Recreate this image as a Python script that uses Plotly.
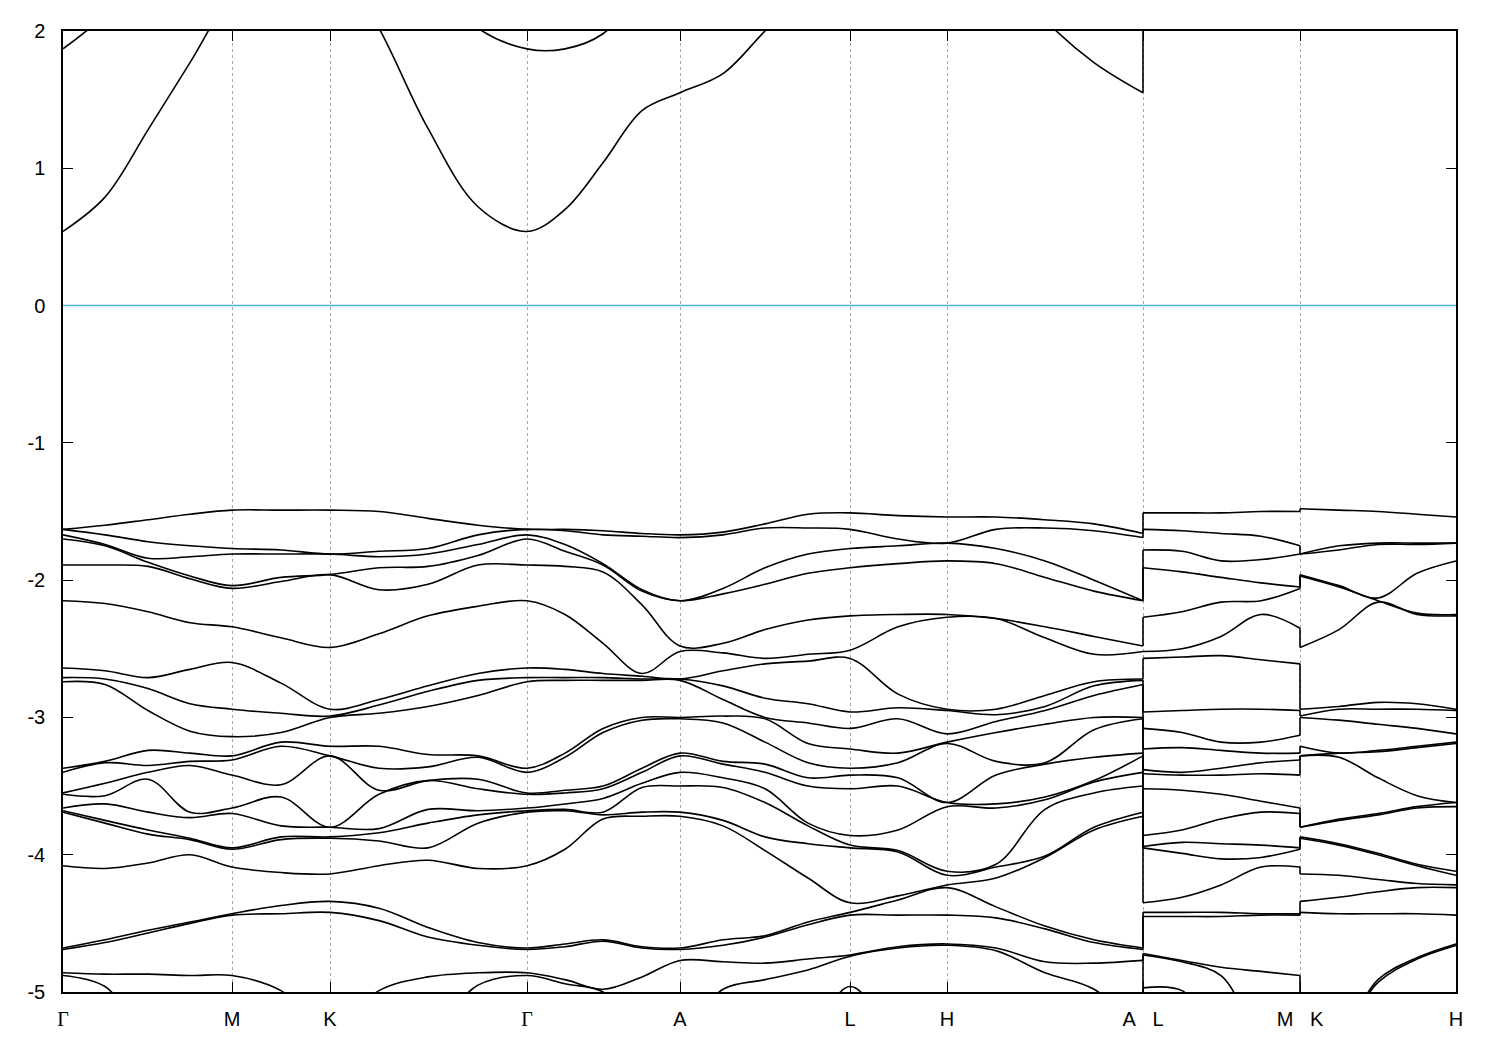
import plotly.graph_objects as go

# k-path distance of each sampled k-point (A|L and M|K are path breaks)
kpath = [0, 42, 85, 127, 169, 218, 267, 316, 365, 415, 464, 502, 540, 579, 617,
         660, 702, 745, 787, 835, 884, 933, 982, 1031, 1080, 1080, 1119, 1158,
         1198, 1237, 1237, 1276, 1315, 1354, 1393]

tick_index = [0, 4, 6, 10, 14, 18, 20, 24, 29, 34]
tick_labels = ["Γ", "M", "K", "Γ", "A", "L", "H", "A   L", "M   K", "H"]

# conduction bands (eV), one value per k-point
cb_low = [0.54, 0.79, 1.28, 1.77, 2.25, 2.5, 2.6, 2.02, 1.29, 0.72, 0.54, 0.70, 1.04,
          1.42, 1.55, 1.69, 2.0, 2.3, 2.5, 2.6, 2.6, 2.5, 2.08, 1.77, 1.55,
          2.6, 2.6, 2.6, 2.6, 2.6, 2.6, 2.6, 2.6, 2.6, 2.6]
cb_high = [1.87, 2.12, 2.5, 2.6, 2.6, 2.6, 2.6, 2.6, 2.4, 2.02, 1.87, 1.87, 1.98,
           2.3, 2.6, 2.6, 2.6, 2.6, 2.6, 2.6, 2.6, 2.6, 2.6, 2.6, 2.6,
           2.6, 2.6, 2.6, 2.6, 2.6, 2.6, 2.6, 2.6, 2.6, 2.6]

# valence eigenvalues (eV) at each k-point, sorted from top to bottom
eig_00 = [-1.63, -1.63, -1.67, -1.70, -1.89, -2.15, -2.64, -2.71, -2.74, -3.37, -3.40, -3.55, -3.56, -3.66, -3.68, -3.69, -4.08, -4.68, -4.69, -4.86, -4.88, -5.3]
eig_01 = [-1.60, -1.67, -1.74, -1.75, -1.89, -2.17, -2.66, -2.72, -2.76, -3.32, -3.33, -3.48, -3.57, -3.63, -3.75, -3.77, -4.10, -4.62, -4.64, -4.87, -4.96, -5.3]
eig_02 = [-1.56, -1.72, -1.84, -1.87, -1.90, -2.23, -2.71, -2.79, -2.95, -3.24, -3.35, -3.40, -3.45, -3.69, -3.82, -3.85, -4.06, -4.55, -4.57, -4.87, -5.3, -5.3]
eig_03 = [-1.52, -1.75, -1.83, -1.97, -1.99, -2.31, -2.65, -2.90, -3.10, -3.26, -3.32, -3.35, -3.69, -3.73, -3.88, -3.89, -4.00, -4.49, -4.50, -4.88, -5.3, -5.3]
eig_04 = [-1.49, -1.77, -1.81, -2.04, -2.06, -2.34, -2.60, -2.94, -3.14, -3.28, -3.31, -3.42, -3.66, -3.70, -3.95, -3.96, -4.09, -4.43, -4.44, -4.88, -5.3, -5.3]
eig_05 = [-1.49, -1.78, -1.81, -1.98, -2.01, -2.42, -2.75, -2.97, -3.11, -3.18, -3.21, -3.49, -3.58, -3.79, -3.87, -3.89, -4.13, -4.37, -4.43, -4.99, -5.3, -5.3]
eig_06 = [-1.49, -1.81, -1.81, -1.96, -1.96, -2.49, -2.94, -2.99, -3.00, -3.21, -3.28, -3.28, -3.80, -3.80, -3.87, -3.88, -4.14, -4.34, -4.42, -5.3, -5.3, -5.3]
eig_07 = [-1.50, -1.79, -1.83, -1.91, -2.07, -2.39, -2.87, -2.91, -2.97, -3.21, -3.37, -3.53, -3.56, -3.81, -3.84, -3.90, -4.08, -4.39, -4.48, -4.99, -5.3, -5.3]
eig_08 = [-1.55, -1.77, -1.81, -1.90, -2.03, -2.26, -2.77, -2.81, -2.92, -3.27, -3.36, -3.46, -3.46, -3.67, -3.77, -3.95, -4.04, -4.53, -4.60, -4.89, -5.3, -5.3]
eig_09 = [-1.60, -1.67, -1.74, -1.82, -1.89, -2.19, -2.68, -2.73, -2.84, -3.28, -3.29, -3.45, -3.52, -3.68, -3.71, -3.77, -4.10, -4.64, -4.66, -4.86, -4.95, -5.3]
eig_10 = [-1.63, -1.63, -1.67, -1.70, -1.89, -2.15, -2.64, -2.71, -2.74, -3.37, -3.40, -3.55, -3.56, -3.66, -3.68, -3.69, -4.08, -4.68, -4.69, -4.86, -4.88, -5.3]
eig_11 = [-1.63, -1.64, -1.74, -1.79, -1.90, -2.25, -2.65, -2.71, -2.73, -3.26, -3.29, -3.53, -3.55, -3.63, -3.67, -3.68, -3.96, -4.65, -4.67, -4.91, -4.94, -5.3]
eig_12 = [-1.64, -1.67, -1.88, -1.89, -1.94, -2.46, -2.68, -2.71, -2.73, -3.08, -3.11, -3.50, -3.52, -3.59, -3.69, -3.71, -3.74, -4.62, -4.63, -4.98, -5.00, -5.3]
eig_13 = [-1.66, -1.68, -2.07, -2.08, -2.18, -2.68, -2.70, -2.72, -2.73, -3.00, -3.02, -3.37, -3.40, -3.48, -3.51, -3.69, -3.72, -4.67, -4.68, -4.89, -5.3, -5.3]
eig_14 = [-1.67, -1.69, -2.15, -2.15, -2.48, -2.52, -2.72, -2.72, -2.73, -3.00, -3.01, -3.26, -3.28, -3.40, -3.50, -3.69, -3.72, -4.68, -4.69, -4.77, -5.3, -5.3]
eig_15 = [-1.65, -1.67, -2.06, -2.10, -2.46, -2.53, -2.66, -2.77, -2.87, -2.99, -3.04, -3.32, -3.34, -3.44, -3.51, -3.75, -3.79, -4.62, -4.66, -4.78, -4.98, -5.3]
eig_16 = [-1.59, -1.62, -1.91, -2.03, -2.36, -2.57, -2.61, -2.86, -3.00, -3.01, -3.18, -3.34, -3.40, -3.52, -3.62, -3.87, -3.97, -4.59, -4.60, -4.79, -4.91, -5.3]
eig_17 = [-1.52, -1.62, -1.81, -1.95, -2.29, -2.54, -2.59, -2.90, -3.04, -3.19, -3.33, -3.44, -3.50, -3.77, -3.79, -3.92, -4.17, -4.49, -4.51, -4.76, -4.84, -5.3]
eig_18 = [-1.51, -1.63, -1.77, -1.91, -2.26, -2.51, -2.57, -2.96, -3.08, -3.23, -3.37, -3.42, -3.52, -3.86, -3.93, -3.95, -4.35, -4.42, -4.44, -4.73, -4.74, -4.96]
eig_19 = [-1.53, -1.70, -1.75, -1.88, -2.25, -2.34, -2.83, -2.93, -3.01, -3.26, -3.33, -3.44, -3.50, -3.82, -3.97, -3.98, -4.30, -4.33, -4.44, -4.67, -4.68, -5.3]
eig_20 = [-1.54, -1.73, -1.73, -1.86, -2.25, -2.27, -2.94, -2.95, -3.12, -3.18, -3.19, -3.62, -3.62, -3.65, -4.12, -4.15, -4.22, -4.24, -4.44, -4.65, -4.66, -5.3]
eig_21 = [-1.54, -1.63, -1.77, -1.88, -2.28, -2.28, -2.94, -2.98, -3.03, -3.11, -3.32, -3.42, -3.63, -3.66, -4.07, -4.09, -4.17, -4.38, -4.46, -4.68, -4.70, -5.3]
eig_22 = [-1.56, -1.62, -1.86, -1.98, -2.34, -2.42, -2.84, -2.92, -2.95, -3.05, -3.33, -3.34, -3.58, -3.60, -3.67, -4.01, -4.02, -4.52, -4.54, -4.78, -4.86, -5.3]
eig_23 = [-1.59, -1.64, -2.00, -2.08, -2.41, -2.54, -2.74, -2.77, -2.84, -3.00, -3.09, -3.29, -3.46, -3.47, -3.55, -3.80, -3.82, -4.62, -4.64, -4.79, -4.98, -5.3]
eig_24 = [-1.66, -1.69, -2.15, -2.15, -2.48, -2.52, -2.72, -2.73, -2.76, -3.00, -3.01, -3.26, -3.28, -3.40, -3.50, -3.69, -3.72, -4.68, -4.69, -4.77, -5.3, -5.3]
eig_25 = [-1.51, -1.63, -1.78, -1.91, -2.27, -2.52, -2.57, -2.96, -3.08, -3.23, -3.38, -3.41, -3.52, -3.86, -3.94, -3.95, -4.35, -4.42, -4.45, -4.72, -4.73, -4.97]
eig_26 = [-1.51, -1.64, -1.79, -1.94, -2.23, -2.50, -2.56, -2.95, -3.11, -3.22, -3.40, -3.42, -3.53, -3.82, -3.91, -3.99, -4.31, -4.42, -4.45, -4.77, -4.78, -4.99]
eig_27 = [-1.51, -1.66, -1.86, -1.98, -2.16, -2.41, -2.55, -2.94, -3.18, -3.24, -3.37, -3.42, -3.56, -3.74, -3.92, -4.03, -4.22, -4.42, -4.45, -4.82, -4.88, -5.3]
eig_28 = [-1.50, -1.68, -1.85, -2.02, -2.15, -2.25, -2.58, -2.94, -3.18, -3.26, -3.33, -3.41, -3.61, -3.69, -3.93, -4.02, -4.09, -4.43, -4.44, -4.85, -5.3, -5.3]
eig_29 = [-1.50, -1.75, -1.81, -2.05, -2.06, -2.35, -2.61, -2.95, -3.13, -3.26, -3.31, -3.42, -3.66, -3.70, -3.95, -3.96, -4.09, -4.43, -4.44, -4.88, -5.3, -5.3]
eig_30 = [-1.48, -1.81, -1.81, -1.96, -1.97, -2.49, -2.94, -2.99, -3.00, -3.21, -3.28, -3.28, -3.80, -3.80, -3.87, -3.88, -4.14, -4.34, -4.42, -5.3, -5.3, -5.3]
eig_31 = [-1.49, -1.75, -1.78, -2.04, -2.05, -2.36, -2.92, -2.94, -3.02, -3.26, -3.26, -3.29, -3.74, -3.75, -3.92, -3.93, -4.15, -4.31, -4.43, -5.3, -5.3, -5.3]
eig_32 = [-1.50, -1.73, -1.74, -2.13, -2.15, -2.16, -2.89, -2.94, -3.05, -3.24, -3.25, -3.44, -3.70, -3.71, -3.99, -4.00, -4.18, -4.27, -4.43, -4.91, -4.93, -5.3]
eig_33 = [-1.52, -1.73, -1.74, -1.95, -2.24, -2.25, -2.90, -2.94, -3.08, -3.21, -3.22, -3.57, -3.65, -3.66, -4.07, -4.08, -4.21, -4.24, -4.43, -4.75, -4.76, -5.3]
eig_34 = [-1.54, -1.73, -1.73, -1.86, -2.25, -2.26, -2.94, -2.95, -3.12, -3.18, -3.19, -3.62, -3.62, -3.65, -4.12, -4.15, -4.22, -4.24, -4.44, -4.65, -4.66, -5.3]

eig_cols = [eig_00, eig_01, eig_02, eig_03, eig_04, eig_05, eig_06, eig_07, eig_08,
            eig_09, eig_10, eig_11, eig_12, eig_13, eig_14, eig_15, eig_16, eig_17,
            eig_18, eig_19, eig_20, eig_21, eig_22, eig_23, eig_24, eig_25, eig_26,
            eig_27, eig_28, eig_29, eig_30, eig_31, eig_32, eig_33, eig_34]

segments = [(0, 25), (25, 30), (30, 35)]
breaks = [(24, 25), (29, 30)]

bands = [[col[b] for col in eig_cols] for b in range(len(eig_00))]
bands += [cb_low, cb_high]

sx, sy, jx, jy = [], [], [], []
for band in bands:
    for s, e in segments:
        sx += [kpath[i] for i in range(s, e)] + [None]
        sy += [band[i] for i in range(s, e)] + [None]
    for i, j in breaks:
        jx += [kpath[i], kpath[j], None]
        jy += [band[i], band[j], None]

fig = go.Figure()
fig.add_trace(go.Scatter(x=jx, y=jy, mode="lines", hoverinfo="skip",
                         line=dict(color="black", width=1.6)))
fig.add_trace(go.Scatter(x=sx, y=sy, mode="lines", hoverinfo="skip",
                         line=dict(color="black", width=1.6, shape="spline", smoothing=1.0)))

fig.add_shape(type="line", xref="x domain", yref="y", x0=0, x1=1, y0=0, y1=0,
              line=dict(color="#56b4e9", width=1.5), layer="above")

serif = '<span style="font-family:Liberation Serif, DejaVu Serif">Γ</span>'
ticktext = [serif if t == "Γ" else t.replace(" ", "\u00a0") for t in tick_labels]

# the page body adds an 8px offset, so the figure is sized/margined to land
# the plot area at 63..1456 x 28..992 of the window
fig.update_layout(
    width=1492, height=1042,
    margin=dict(l=55, r=44, t=20, b=58),
    paper_bgcolor="white", plot_bgcolor="white",
    showlegend=False,
    font=dict(family="Liberation Sans, Arial, sans-serif", size=20, color="black"),
)
fig.update_xaxes(
    range=[kpath[0], kpath[-1]],
    tickmode="array", tickvals=[kpath[i] for i in tick_index], ticktext=ticktext,
    ticks="inside", ticklen=10, tickwidth=1.2, tickcolor="black",
    ticklabelstandoff=8,
    showgrid=True, gridcolor="#a8a8a8", griddash="dot", gridwidth=1,
    showline=True, linecolor="black", linewidth=1.5, mirror="ticks",
    zeroline=False, tickfont=dict(size=20),
)
yt = [-5, -4, -3, -2, -1, 0, 1, 2]
fig.update_yaxes(
    range=[-5, 2],
    tickmode="array", tickvals=yt, ticktext=[str(v) for v in yt],
    ticks="inside", ticklen=10, tickwidth=1.2, tickcolor="black",
    ticklabelstandoff=12,
    showgrid=False, zeroline=False,
    showline=True, linecolor="black", linewidth=1.5, mirror="ticks",
    tickfont=dict(size=20),
)

fig.write_html("out.html")
